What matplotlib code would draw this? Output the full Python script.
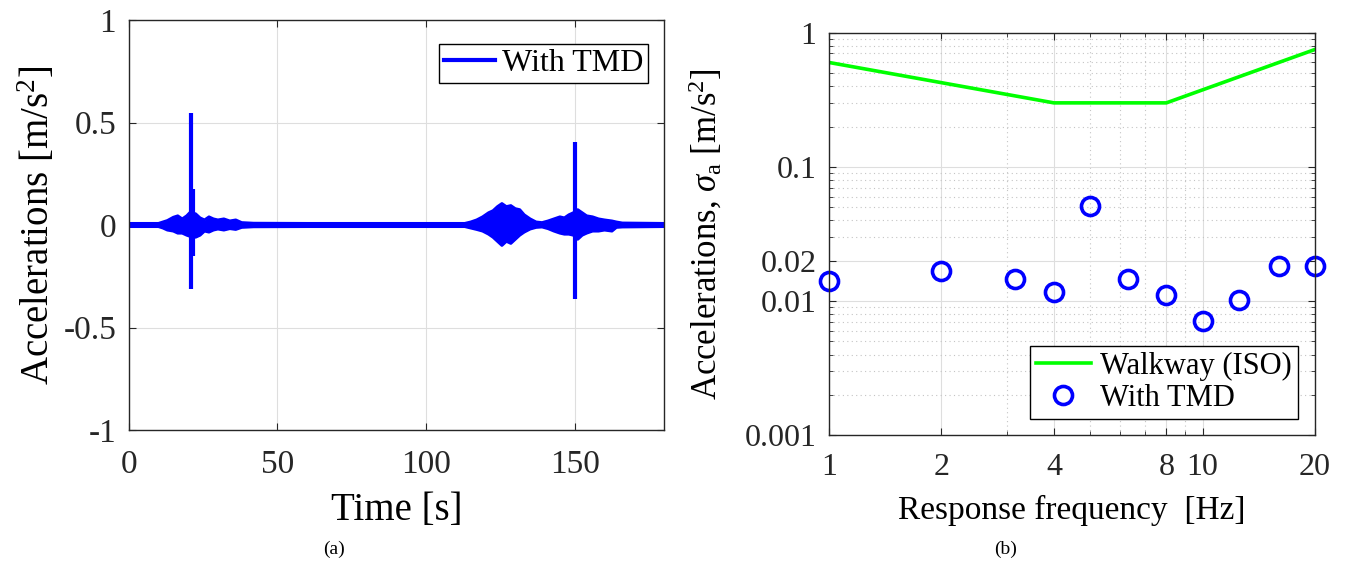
import numpy as np
import matplotlib
matplotlib.use("Agg")
import matplotlib.pyplot as plt
from matplotlib.ticker import FixedLocator, LogLocator, NullFormatter

# --- (a) acceleration time history, read as envelope + isolated spikes ---
env_t = [0, 10, 11.5, 13, 15, 16.5, 18, 19.5, 20.5, 22.5, 24, 25.5, 27, 28.5, 30,
         32, 34, 36, 38, 42, 60, 80, 100, 113, 115, 117, 119, 121, 122.5, 124,
         125.5, 127, 128.5, 130, 131.5, 133, 135, 137, 139, 141, 143, 145, 146.5,
         148, 149.5, 151, 152.5, 154, 156, 158, 160, 162.5, 164, 166, 180]
env_hi = [0.008, 0.008, 0.015, 0.022, 0.038, 0.045, 0.03, 0.045, 0.06, 0.055, 0.035,
          0.025, 0.04, 0.03, 0.025, 0.03, 0.02, 0.025, 0.012, 0.009, 0.008, 0.008,
          0.008, 0.008, 0.015, 0.025, 0.04, 0.06, 0.07, 0.09, 0.105, 0.09, 0.095,
          0.08, 0.075, 0.05, 0.03, 0.015, 0.012, 0.02, 0.03, 0.04, 0.035, 0.05,
          0.06, 0.075, 0.06, 0.045, 0.04, 0.03, 0.025, 0.02, 0.015, 0.01, 0.008]
env_lo = [-0.008, -0.008, -0.015, -0.025, -0.03, -0.04, -0.04, -0.05, -0.055, -0.06,
          -0.05, -0.03, -0.035, -0.025, -0.02, -0.025, -0.018, -0.022, -0.012,
          -0.009, -0.008, -0.008, -0.008, -0.008, -0.015, -0.022, -0.03, -0.045,
          -0.06, -0.08, -0.1, -0.08, -0.09, -0.07, -0.05, -0.035, -0.02, -0.012,
          -0.01, -0.018, -0.03, -0.04, -0.045, -0.045, -0.05, -0.07, -0.05, -0.04,
          -0.03, -0.03, -0.025, -0.03, -0.012, -0.01, -0.008]
spike_t = [21.1, 21.7, 150.2]
spike_hi = [0.545, 0.175, 0.405]
spike_lo = [-0.31, -0.15, -0.36]

time_ticks = [0, 50, 100, 150]
acc_ticks = [-1, -0.5, 0, 0.5, 1]
acc_labels = ["-1", "-0.5", "0", "0.5", "1"]

# --- (b) RMS accelerations vs ISO walkway limit ---
iso_f = [1, 4, 8, 20]
iso_a = [0.6, 0.3, 0.3, 0.75]
tmd_f = [1, 2, 3.15, 4, 5, 6.3, 8, 10, 12.5, 16, 20]
tmd_a = [0.0142, 0.0169, 0.0147, 0.0116, 0.0507, 0.0145, 0.0111, 0.0071, 0.0102,
         0.0184, 0.0183]

freq_ticks = [1, 2, 4, 8, 10, 20]
freq_labels = ["1", "2", "4", "8", "10", "20"]
sig_ticks = [0.001, 0.01, 0.02, 0.1, 1]
sig_labels = ["0.001", "0.01", "0.02", "0.1", "1"]

plt.rcParams["font.family"] = ["Liberation Serif", "DejaVu Serif"]
plt.rcParams["mathtext.fontset"] = "custom"
plt.rcParams["mathtext.rm"] = "Liberation Serif"
plt.rcParams["mathtext.it"] = "Liberation Serif:italic"

AX_COL = "#262626"
GRID_COL = "#dedede"

fig = plt.figure(figsize=(13.46, 5.67), dpi=100)
W, H = 1346, 567

def place(x0, y0, x1, y1):
    return fig.add_axes([x0 / W, 1 - y1 / H, (x1 - x0) / W, (y1 - y0) / H])

def style(ax):
    for s in ax.spines.values():
        s.set_color(AX_COL)
        s.set_linewidth(1.0)
    ax.tick_params(which="both", direction="in", top=True, right=True,
                   colors=AX_COL, labelcolor="#262626")
    ax.tick_params(which="major", length=5, width=0.8)
    ax.tick_params(which="minor", length=3, width=0.6)

# (a)
ax1 = place(128.7, 20, 664, 430)
ax1.fill_between(env_t, env_lo, env_hi, color="blue", lw=0)
ax1.plot(env_t, env_hi, color="blue", lw=2, label="With TMD")
ax1.plot(env_t, env_lo, color="blue", lw=2)
ax1.vlines(spike_t, spike_lo, spike_hi, color="blue", lw=3)
ax1.set_xlim(0, 180)
ax1.set_ylim(-1, 1)
ax1.set_xticks(time_ticks)
ax1.set_yticks(acc_ticks)
ax1.set_yticklabels(acc_labels)
ax1.grid(True, color=GRID_COL, lw=0.8)
ax1.set_axisbelow(True)
style(ax1)
ax1.tick_params(labelsize=24)
ax1.tick_params(axis="x", pad=14)
ax1.tick_params(axis="y", pad=9)
ax1.set_xlabel("Time [s]", fontsize=28, labelpad=9)
ax1.set_ylabel("Accelerations [m/s$^2$]", fontsize=28, labelpad=4)
leg1 = ax1.legend(loc="upper right", bbox_to_anchor=(0.970, 0.9415), borderaxespad=0,
                  fontsize=23, fancybox=False, framealpha=1, edgecolor="black",
                  handlelength=1.6, handletextpad=0.2, borderpad=0.15)
leg1.get_frame().set_linewidth(1.0)
leg1.get_lines()[0].set_linewidth(3)

# (b)
ax2 = place(829, 32.7, 1315, 435.3)
ax2.set_xscale("log")
ax2.set_yscale("log")
ax2.plot(iso_f, iso_a, color=(0, 1, 0), lw=2.6, label="Walkway (ISO)")
ax2.plot(tmd_f, tmd_a, "o", mfc="none", mec="blue", ms=13, mew=2.6, ls="none",
         label="With TMD", clip_on=False)
ax2.set_xlim(1, 20)
ax2.set_ylim(0.001, 1)
ax2.xaxis.set_major_locator(FixedLocator(freq_ticks))
ax2.set_xticklabels(freq_labels)
ax2.yaxis.set_major_locator(FixedLocator(sig_ticks))
ax2.set_yticklabels(sig_labels)
ax2.xaxis.set_minor_locator(LogLocator(base=10, subs=np.arange(2, 10)))
ax2.yaxis.set_minor_locator(LogLocator(base=10, subs=np.arange(2, 10)))
ax2.xaxis.set_minor_formatter(NullFormatter())
ax2.yaxis.set_minor_formatter(NullFormatter())
ax2.grid(True, which="major", color=GRID_COL, lw=0.8)
ax2.grid(True, which="minor", color="#c4c4c4", lw=0.8, ls=(0, (1, 3)))
ax2.set_axisbelow(True)
style(ax2)
ax2.tick_params(labelsize=23)
ax2.tick_params(axis="x", pad=13)
ax2.tick_params(axis="y", pad=9)
ax2.set_xlabel("Response frequency  [Hz]", fontsize=24, labelpad=9)
ax2.set_ylabel(r"Accelerations, $\sigma_{\rm a}$ [m/s$^2$]", fontsize=25, labelpad=14)
leg2 = ax2.legend(loc="lower right", bbox_to_anchor=(0.965, 0.0405), borderaxespad=0,
                  fontsize=22, fancybox=False, framealpha=1, edgecolor="black",
                  handlelength=1.8, handletextpad=0.3, borderpad=0.2, labelspacing=0.1)
leg2.get_frame().set_linewidth(1.0)

fig.text(334 / W, 1 - 549 / H, "(a)", ha="center", va="center", fontsize=14)
fig.text(1006 / W, 1 - 549 / H, "(b)", ha="center", va="center", fontsize=14)

fig.savefig("out.png", dpi=100, facecolor="white")
